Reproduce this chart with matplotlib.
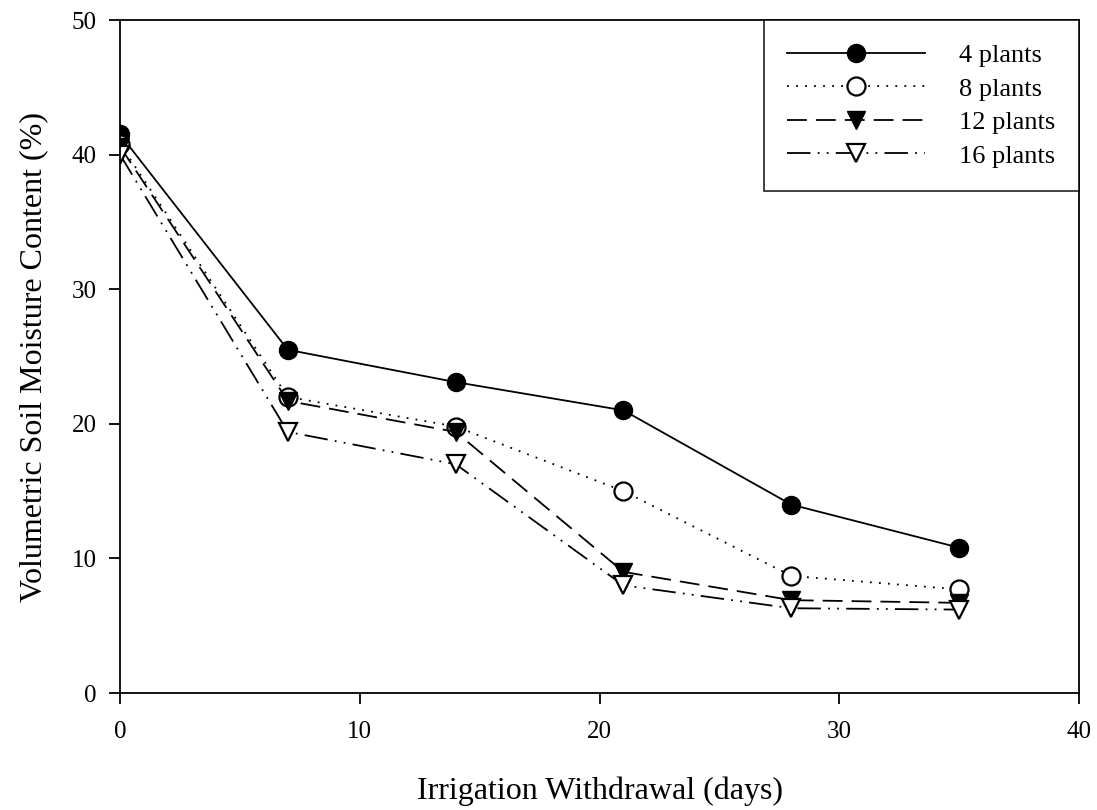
import matplotlib
matplotlib.use("Agg")
import matplotlib.pyplot as plt

# soil moisture over days after irrigation stopped
days = [0, 7, 14, 21, 28, 35]
plants_4 = [41.5, 25.5, 23.1, 21.0, 14.0, 10.8]
plants_8 = [40.8, 22.0, 19.8, 15.0, 8.7, 7.7]
plants_12 = [40.6, 21.7, 19.4, 9.0, 6.9, 6.7]
plants_16 = [40.0, 19.4, 17.0, 8.0, 6.3, 6.2]

plt.rcParams['font.family'] = ['Liberation Serif', 'DejaVu Serif']

fig = plt.figure(figsize=(10.97, 8.10), dpi=100)
ax = fig.add_axes([0.1094, 0.1444, 0.8742, 0.8309])

lw = 1.3
ms = 13
ax.plot(days, plants_4, color='k', lw=lw, ls='-', marker='o', ms=ms,
        mfc='k', mec='k', label='4 plants')
ax.plot(days, plants_8, color='k', lw=lw, ls=(0, (1, 4)), marker='o', ms=ms,
        mfc='white', mec='k', mew=1.6, label='8 plants')
ax.plot(days, plants_12, color='k', lw=lw, ls=(0, (11, 5)), marker='v', ms=ms,
        mfc='k', mec='k', label='12 plants')
ax.plot(days, plants_16, color='k', lw=lw, ls=(0, (13, 4, 1, 4, 1, 4)), marker='v', ms=ms,
        mfc='white', mec='k', mew=1.6, label='16 plants')

ax.set_xlim(0, 40)
ax.set_ylim(0, 50)
ax.set_xticks([0, 10, 20, 30, 40])
ax.set_yticks([0, 10, 20, 30, 40, 50])
ax.tick_params(direction='out', length=8, width=1.3, labelsize=18, pad=12)
ax.tick_params(axis='y', pad=9)
for s in ax.spines.values():
    s.set_linewidth(1.3)

ax.set_xlabel('Irrigation Withdrawal (days)', fontsize=23, labelpad=24)
ax.set_ylabel('Volumetric Soil Moisture Content (%)', fontsize=23, labelpad=17)

leg = ax.legend(loc='upper right', borderaxespad=0, fontsize=19, frameon=True,
                fancybox=False, edgecolor='k', handlelength=5.2, handletextpad=1.3,
                borderpad=0.9, labelspacing=0.38, markerscale=1.0)
leg.get_frame().set_linewidth(1.3)

fig.savefig('out.png', dpi=100)
